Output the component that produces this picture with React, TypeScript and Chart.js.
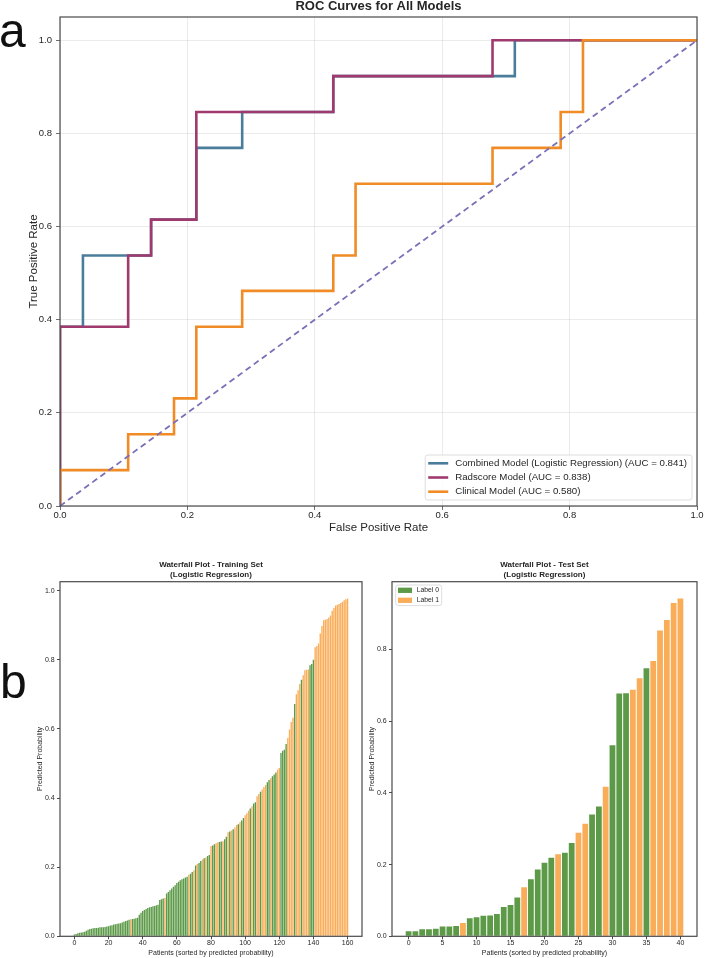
import React, { useEffect, useRef } from 'react';
import { Chart, registerables } from 'chart.js';

Chart.register(...registerables);

const FONT = "'Liberation Sans', Arial, Helvetica, sans-serif";

// ---- ROC curve vertices (false positive rate / true positive rate) ----
const combinedFpr = [0, 0, 0.036, 0.036, 0.143, 0.143, 0.214, 0.214, 0.286, 0.286, 0.429, 0.429, 0.714, 0.714, 1];
const combinedTpr = [0, 0.385, 0.385, 0.538, 0.538, 0.615, 0.615, 0.769, 0.769, 0.846, 0.846, 0.923, 0.923, 1, 1];
const radscoreFpr = [0, 0, 0.107, 0.107, 0.143, 0.143, 0.214, 0.214, 0.429, 0.429, 0.679, 0.679, 1];
const radscoreTpr = [0, 0.385, 0.385, 0.538, 0.538, 0.615, 0.615, 0.846, 0.846, 0.923, 0.923, 1, 1];
const clinicalFpr = [0, 0, 0.107, 0.107, 0.179, 0.179, 0.214, 0.214, 0.286, 0.286, 0.429, 0.429, 0.464, 0.464, 0.679, 0.679, 0.786, 0.786, 0.821, 0.821, 1];
const clinicalTpr = [0, 0.077, 0.077, 0.154, 0.154, 0.231, 0.231, 0.385, 0.385, 0.462, 0.462, 0.538, 0.538, 0.692, 0.692, 0.769, 0.769, 0.846, 0.846, 1, 1];
const chanceFpr = [0, 1];
const chanceTpr = [0, 1];
const rocLabels = [
  'Combined Model (Logistic Regression) (AUC = 0.841)',
  'Radscore Model (AUC = 0.838)',
  'Clinical Model (AUC = 0.580)',
];
const rocTicks = [0, 0.2, 0.4, 0.6, 0.8, 1.0];

// ---- Training set: sorted predicted probabilities and true labels ----
const trainProb = [
  0.005, 0.007, 0.009, 0.010, 0.011, 0.012, 0.013, 0.016, 0.019, 0.021,
  0.022, 0.023, 0.024, 0.024, 0.025, 0.026, 0.026, 0.026, 0.027, 0.028,
  0.029, 0.031, 0.032, 0.034, 0.035, 0.036, 0.037, 0.038, 0.040, 0.042,
  0.044, 0.046, 0.048, 0.049, 0.050, 0.051, 0.052, 0.054, 0.062, 0.068,
  0.073, 0.076, 0.079, 0.082, 0.084, 0.085, 0.087, 0.088, 0.090, 0.091,
  0.105, 0.107, 0.109, 0.111, 0.124, 0.128, 0.133, 0.138, 0.143, 0.148,
  0.154, 0.158, 0.162, 0.165, 0.167, 0.170, 0.172, 0.178, 0.181, 0.186,
  0.191, 0.205, 0.209, 0.212, 0.218, 0.222, 0.226, 0.228, 0.232, 0.235,
  0.261, 0.263, 0.266, 0.269, 0.272, 0.273, 0.274, 0.275, 0.281, 0.288,
  0.301, 0.303, 0.306, 0.310, 0.315, 0.322, 0.324, 0.330, 0.335, 0.342,
  0.350, 0.356, 0.363, 0.370, 0.376, 0.384, 0.388, 0.405, 0.412, 0.418,
  0.425, 0.432, 0.438, 0.446, 0.452, 0.457, 0.463, 0.468, 0.474, 0.482,
  0.487, 0.530, 0.537, 0.540, 0.556, 0.574, 0.598, 0.620, 0.632, 0.672,
  0.700, 0.712, 0.730, 0.742, 0.755, 0.770, 0.771, 0.772, 0.784, 0.788,
  0.800, 0.836, 0.840, 0.847, 0.876, 0.898, 0.914, 0.916, 0.918, 0.922,
  0.928, 0.942, 0.950, 0.957, 0.959, 0.961, 0.964, 0.968, 0.972, 0.975,
  0.977,
];
const trainLabel = [
  0, 0, 0, 0, 0, 0, 0, 0, 0, 0,
  0, 0, 0, 0, 0, 0, 0, 0, 0, 0,
  0, 0, 0, 0, 0, 0, 0, 0, 0, 0,
  0, 0, 0, 1, 0, 0, 0, 0, 0, 0,
  0, 0, 0, 0, 0, 0, 0, 0, 0, 0,
  0, 0, 0, 1, 0, 0, 0, 0, 0, 0,
  0, 0, 0, 0, 0, 0, 0, 1, 0, 0,
  1, 0, 1, 0, 0, 1, 0, 1, 0, 0,
  1, 0, 0, 1, 1, 0, 0, 1, 0, 0,
  1, 0, 1, 0, 1, 1, 0, 1, 0, 0,
  1, 1, 1, 0, 1, 0, 0, 1, 1, 0,
  1, 1, 1, 0, 0, 1, 0, 0, 0, 1,
  1, 0, 0, 0, 0, 1, 1, 1, 1, 0,
  1, 1, 1, 0, 1, 1, 1, 1, 0, 0,
  0, 1, 1, 1, 1, 1, 1, 1, 1, 1,
  1, 1, 1, 1, 1, 1, 1, 1, 1, 1,
  1,
];

// ---- Test set: sorted predicted probabilities and true labels ----
const testProb = [
  0.014, 0.014, 0.020, 0.020, 0.021, 0.027, 0.027, 0.029, 0.037, 0.050,
  0.053, 0.057, 0.058, 0.062, 0.082, 0.087, 0.108, 0.137, 0.159, 0.186,
  0.205, 0.219, 0.229, 0.233, 0.260, 0.289, 0.314, 0.340, 0.362, 0.417,
  0.533, 0.677, 0.678, 0.688, 0.720, 0.748, 0.768, 0.853, 0.882, 0.930,
  0.942,
];
const testLabel = [
  0, 0, 0, 0, 0, 0, 0, 0, 1, 0,
  0, 0, 0, 0, 0, 0, 0, 1, 0, 0,
  0, 0, 1, 0, 0, 1, 1, 0, 0, 1,
  0, 0, 0, 1, 1, 0, 1, 1, 1, 1,
  1,
];
const classNames = ['Label 0', 'Label 1'];
const trainXTicks = [0, 20, 40, 60, 80, 100, 120, 140, 160];
const trainYTicks = [0, 0.2, 0.4, 0.6, 0.8, 1.0];
const testXTicks = [0, 5, 10, 15, 20, 25, 30, 35, 40];
const testYTicks = [0, 0.2, 0.4, 0.6, 0.8];

const C_COMBINED = '#4a7d9a';
const C_RADSCORE = '#a03a6e';
const C_CLINICAL = '#f08b26';
const C_CHANCE = '#7a70b8';
const C_GREEN = '#5c9a48';
const C_ORANGE = '#f9ad58';
const C_FRAME = '#4a4a4a';
const C_TEXT = '#262626';

// Full box around the plotting area (all four spines)
const framePlugin = {
  id: 'axesFrame',
  afterDatasetsDraw(chart: any) {
    const { ctx, chartArea } = chart;
    const { left, top, right, bottom } = chartArea;
    ctx.save();
    ctx.strokeStyle = C_FRAME;
    ctx.lineWidth = 1.2;
    ctx.strokeRect(left, top, right - left, bottom - top);
    ctx.restore();
  },
};

// Legend drawn inside the plotting area, anchored to a corner
const insideLegend = {
  id: 'insideLegend',
  afterDraw(chart: any, _args: any, opts: any) {
    if (!opts || !opts.display) return;
    const { ctx, chartArea } = chart;
    const items = chart.data.datasets.filter((ds: any) => ds.label);
    ctx.save();
    ctx.font = `${opts.fontSize}px ${FONT}`;
    const textW = Math.max(...items.map((ds: any) => ctx.measureText(ds.label).width));
    const boxW = opts.padX + opts.sampleW + opts.gap + textW + opts.padRight;
    const boxH = opts.padY * 2 + opts.rowH * items.length;
    const x0 = opts.corner === 'lowerRight' ? chartArea.right - opts.marginX - boxW : chartArea.left + opts.marginX;
    const y0 = opts.corner === 'lowerRight' ? chartArea.bottom - opts.marginY - boxH : chartArea.top + opts.marginY;
    const r = 2.5;
    ctx.beginPath();
    ctx.moveTo(x0 + r, y0);
    ctx.lineTo(x0 + boxW - r, y0);
    ctx.quadraticCurveTo(x0 + boxW, y0, x0 + boxW, y0 + r);
    ctx.lineTo(x0 + boxW, y0 + boxH - r);
    ctx.quadraticCurveTo(x0 + boxW, y0 + boxH, x0 + boxW - r, y0 + boxH);
    ctx.lineTo(x0 + r, y0 + boxH);
    ctx.quadraticCurveTo(x0, y0 + boxH, x0, y0 + boxH - r);
    ctx.lineTo(x0, y0 + r);
    ctx.quadraticCurveTo(x0, y0, x0 + r, y0);
    ctx.closePath();
    ctx.fillStyle = 'rgba(255,255,255,0.85)';
    ctx.fill();
    ctx.strokeStyle = '#d4d4d4';
    ctx.lineWidth = 0.8;
    ctx.stroke();
    items.forEach((ds: any, i: number) => {
      const cy = y0 + opts.padY + opts.rowH * (i + 0.5);
      const sx = x0 + opts.padX;
      if (opts.sample === 'line') {
        ctx.strokeStyle = ds.borderColor;
        ctx.lineWidth = ds.borderWidth;
        ctx.beginPath();
        ctx.moveTo(sx, cy);
        ctx.lineTo(sx + opts.sampleW, cy);
        ctx.stroke();
      } else {
        ctx.fillStyle = ds.backgroundColor;
        ctx.fillRect(sx, cy - opts.patchH / 2, opts.sampleW, opts.patchH);
      }
      ctx.fillStyle = C_TEXT;
      ctx.textBaseline = 'middle';
      ctx.textAlign = 'left';
      ctx.fillText(ds.label, sx + opts.sampleW + opts.gap, cy);
    });
    ctx.restore();
  },
};

const fixedTicks = (values: number[]) => (scale: any) => {
  scale.ticks = values.map((v) => ({ value: v }));
};

function useChart(build: () => any) {
  const ref = useRef<HTMLCanvasElement>(null);
  useEffect(() => {
    const chart = new Chart(ref.current as HTMLCanvasElement, build());
    return () => chart.destroy();
  }, []);
  return ref;
}

const toPoints = (xs: number[], ys: number[]) => xs.map((x, i) => ({ x, y: ys[i] }));

function RocChart() {
  const ref = useChart(() => ({
    type: 'scatter',
    data: {
      datasets: [
        { label: rocLabels[0], data: toPoints(combinedFpr, combinedTpr), borderColor: C_COMBINED, borderWidth: 2.6, order: 3 },
        { label: rocLabels[1], data: toPoints(radscoreFpr, radscoreTpr), borderColor: C_RADSCORE, borderWidth: 2.6, order: 2 },
        { label: rocLabels[2], data: toPoints(clinicalFpr, clinicalTpr), borderColor: C_CLINICAL, borderWidth: 2.6, order: 1 },
        { data: toPoints(chanceFpr, chanceTpr), borderColor: C_CHANCE, borderWidth: 1.8, borderDash: [6, 4], order: 0 },
      ].map((d) => ({ ...d, showLine: true, pointRadius: 0, pointHoverRadius: 0, fill: false, tension: 0 })),
    },
    options: {
      responsive: false,
      animation: false,
      devicePixelRatio: 1,
      layout: { padding: { left: 0, right: 8, top: 0, bottom: 0 } },
      plugins: {
        legend: { display: false },
        tooltip: { enabled: false },
        title: {
          display: true,
          text: 'ROC Curves for All Models',
          fullSize: false,
          color: C_TEXT,
          font: { family: FONT, size: 13, weight: 'bold', lineHeight: 1 },
          padding: { top: 0, bottom: 4 },
        },
        insideLegend: {
          display: true, corner: 'lowerRight', sample: 'line', fontSize: 9.7,
          marginX: 5, marginY: 6, padX: 3, padY: 1.2, padRight: 5, sampleW: 20, gap: 7, rowH: 14.2,
        },
      },
      scales: {
        x: {
          type: 'linear', min: 0, max: 1,
          afterBuildTicks: fixedTicks(rocTicks),
          afterFit: (s: any) => { s.height = 34; },
          ticks: { callback: (v: any) => Number(v).toFixed(1), font: { family: FONT, size: 9.5 }, color: C_TEXT, padding: 0, maxRotation: 0, autoSkip: false },
          grid: { color: 'rgba(0,0,0,0.1)', lineWidth: 0.8, tickColor: C_FRAME, tickLength: 4 },
          border: { display: false },
          title: { display: true, text: 'False Positive Rate', color: C_TEXT, font: { family: FONT, size: 11.5 }, padding: { top: 0, bottom: 5 } },
        },
        y: {
          type: 'linear', min: 0, max: 1.05,
          afterBuildTicks: fixedTicks(rocTicks),
          afterFit: (s: any) => { s.width = 60; },
          ticks: { callback: (v: any) => Number(v).toFixed(1), font: { family: FONT, size: 9.5 }, color: C_TEXT, padding: 4, autoSkip: false },
          grid: { color: 'rgba(0,0,0,0.1)', lineWidth: 0.8, tickColor: C_FRAME, tickLength: 4 },
          border: { display: false },
          title: { display: true, text: 'True Positive Rate', color: C_TEXT, font: { family: FONT, size: 11.5 }, padding: { top: 27, bottom: 0 } },
        },
      },
    },
    plugins: [framePlugin, insideLegend],
  }));
  return <canvas ref={ref} width={705} height={540} style={{ position: 'absolute', left: 0, top: 0, width: 705, height: 540 }} />;
}

function barsFor(values: number[], labels: number[], cls: number) {
  const pts: { x: number; y: number }[] = [];
  values.forEach((v, i) => { if (labels[i] === cls) pts.push({ x: i, y: v }); });
  return pts;
}

function waterfallConfig(opts: {
  values: number[]; labels: number[]; setName: string; xTicks: number[]; yTicks: number[];
  yTitlePad: number; padRight: number; legend: boolean; colors: string[]; barPct: number;
}) {
  const n = opts.values.length;
  const span = n - 1 + 0.8;
  const xMin = -0.4 - 0.05 * span;
  const xMax = n - 1 + 0.4 + 0.05 * span;
  const yMax = Math.max(...opts.values) * 1.05;
  const tickFont = { family: FONT, size: 7 };
  return {
    type: 'bar',
    data: {
      datasets: [0, 1].map((cls) => ({
        label: classNames[cls],
        data: barsFor(opts.values, opts.labels, cls),
        backgroundColor: opts.colors[cls],
        borderWidth: 0,
        grouped: false,
        barPercentage: opts.barPct,
        categoryPercentage: 1,
      })),
    },
    options: {
      responsive: false,
      animation: false,
      devicePixelRatio: 1,
      layout: { padding: { left: 0, right: opts.padRight, top: 0, bottom: 0 } },
      plugins: {
        legend: { display: false },
        tooltip: { enabled: false },
        title: {
          display: true,
          text: [`Waterfall Plot - ${opts.setName}`, '(Logistic Regression)'],
          fullSize: false,
          color: C_TEXT,
          font: { family: FONT, size: 8, weight: 'bold', lineHeight: 1.25 },
          padding: { top: 9.3, bottom: 2.4 },
        },
        insideLegend: {
          display: opts.legend, corner: 'upperLeft', sample: 'patch', fontSize: 6.8,
          marginX: 3.7, marginY: 3.3, padX: 2.3, padY: 0.3, padRight: 2.7, sampleW: 14, patchH: 5.3, gap: 4.7, rowH: 10,
        },
      },
      scales: {
        x: {
          type: 'linear', min: xMin, max: xMax, offset: false,
          afterBuildTicks: fixedTicks(opts.xTicks),
          afterFit: (s: any) => { s.height = 21.7; },
          ticks: { font: tickFont, color: C_TEXT, padding: 0, maxRotation: 0, autoSkip: false },
          grid: { offset: false, drawOnChartArea: false, tickColor: C_FRAME, tickLength: 3 },
          border: { display: false },
          title: { display: true, text: 'Patients (sorted by predicted probability)', color: C_TEXT, font: { family: FONT, size: 7 }, padding: { top: 0, bottom: 0.8 } },
        },
        y: {
          type: 'linear', min: 0, max: yMax,
          afterBuildTicks: fixedTicks(opts.yTicks),
          afterFit: (s: any) => { s.width = opts.yTitlePad < 10 ? 26 : 60; },
          ticks: { callback: (v: any) => Number(v).toFixed(1), font: tickFont, color: C_TEXT, padding: 2.3, autoSkip: false },
          grid: { drawOnChartArea: false, tickColor: C_FRAME, tickLength: 3 },
          border: { display: false },
          title: { display: true, text: 'Predicted Probability', color: C_TEXT, font: { family: FONT, size: 7 }, padding: { top: opts.yTitlePad, bottom: 0 } },
        },
      },
    },
    plugins: [framePlugin, insideLegend],
  };
}

function TrainChart() {
  const ref = useChart(() => waterfallConfig({
    values: trainProb, labels: trainLabel, setName: 'Training Set', xTicks: trainXTicks, yTicks: trainYTicks,
    yTitlePad: 35.8, padRight: 4, legend: false, colors: [C_GREEN, C_ORANGE], barPct: 0.8,
  }));
  return <canvas ref={ref} width={366} height={408} style={{ position: 'absolute', left: 0, top: 550, width: 366, height: 408 }} />;
}

function TestChart() {
  const ref = useChart(() => waterfallConfig({
    values: testProb, labels: testLabel, setName: 'Test Set', xTicks: testXTicks, yTicks: testYTicks,
    yTitlePad: 1.8, padRight: 8, legend: true, colors: [C_GREEN, C_ORANGE], barPct: 0.85,
  }));
  return <canvas ref={ref} width={339} height={408} style={{ position: 'absolute', left: 366, top: 550, width: 339, height: 408 }} />;
}

const panelLetter: React.CSSProperties = {
  position: 'absolute', fontFamily: FONT, fontSize: 48, lineHeight: '48px', color: '#111', margin: 0,
};

export default function App() {
  return (
    <div style={{ position: 'absolute', left: 0, top: 0, width: 705, height: 958, background: '#fff', overflow: 'hidden' }}>
      <RocChart />
      <TrainChart />
      <TestChart />
      <div style={{ ...panelLetter, left: -1, top: 7 }}>a</div>
      <div style={{ ...panelLetter, left: 0, top: 658 }}>b</div>
    </div>
  );
}
